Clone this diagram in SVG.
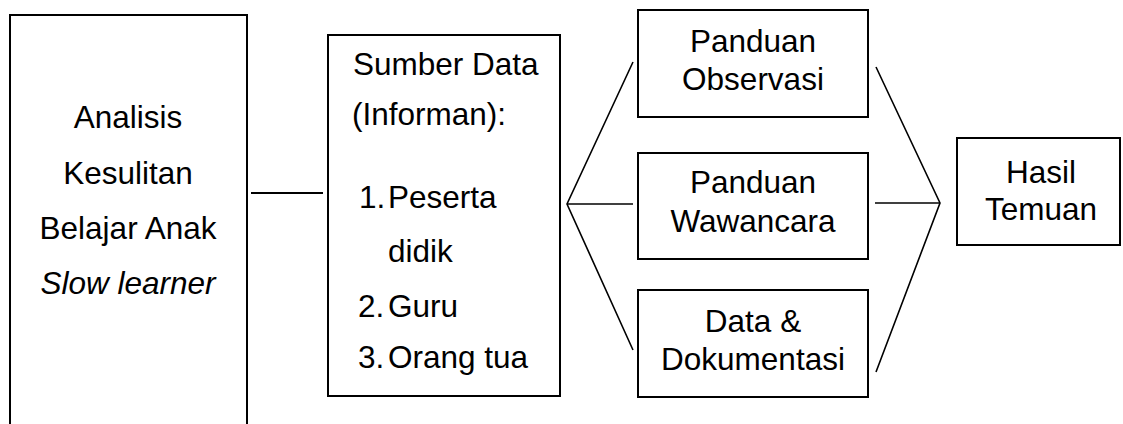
<svg xmlns="http://www.w3.org/2000/svg" width="1123" height="424" viewBox="0 0 1123 424">
<style>
.box{fill:#fff;stroke:#000;stroke-width:2}
.t{font-family:"Liberation Sans",Arial,sans-serif;font-size:31.5px;fill:#000}
.c{text-anchor:middle}
.ln{stroke:#000;stroke-width:1.6;fill:none}
</style>
<rect width="1123" height="424" fill="#fff"/>
<g id="connectors">
<line class="ln" x1="251" y1="193" x2="323" y2="193" style="stroke-width:2"/>
<polyline class="ln" points="633,62 567,204 633,350"/>
<line class="ln" x1="567" y1="204" x2="633" y2="204"/>
<polyline class="ln" points="876,67 940,203 876,372"/>
<line class="ln" x1="875" y1="203" x2="940" y2="203"/>
</g>
<g id="analisis">
<rect class="box" x="10" y="15" width="237" height="430"/>
<text class="t c" x="128" y="128">Analisis</text>
<text class="t c" x="128" y="184">Kesulitan</text>
<text class="t c" x="128" y="239">Belajar Anak</text>
<text class="t c" x="128" y="294" font-style="italic">Slow learner</text>
</g>
<g id="sumber">
<rect class="box" x="328" y="35" width="232" height="361"/>
<text class="t" x="353" y="75">Sumber Data</text>
<text class="t" x="352" y="125">(Informan):</text>
<text class="t" x="359" y="208">1.</text><text class="t" x="388" y="208">Peserta</text>
<text class="t" x="388" y="262">didik</text>
<text class="t" x="358" y="317">2.</text><text class="t" x="388" y="317">Guru</text>
<text class="t" x="358" y="368">3.</text><text class="t" x="388" y="368">Orang tua</text>
</g>
<g id="observasi">
<rect class="box" x="638" y="10" width="230" height="107"/>
<text class="t c" x="753" y="52">Panduan</text>
<text class="t c" x="753" y="90">Observasi</text>
</g>
<g id="wawancara">
<rect class="box" x="638" y="153" width="230" height="106"/>
<text class="t c" x="753" y="193">Panduan</text>
<text class="t c" x="753" y="232">Wawancara</text>
</g>
<g id="dokumentasi">
<rect class="box" x="638" y="290" width="230" height="107"/>
<text class="t c" x="753" y="332">Data &amp;</text>
<text class="t c" x="753" y="370">Dokumentasi</text>
</g>
<g id="hasil">
<rect class="box" x="957" y="138" width="163" height="107"/>
<text class="t c" x="1041" y="183">Hasil</text>
<text class="t c" x="1041" y="220">Temuan</text>
</g>
</svg>
